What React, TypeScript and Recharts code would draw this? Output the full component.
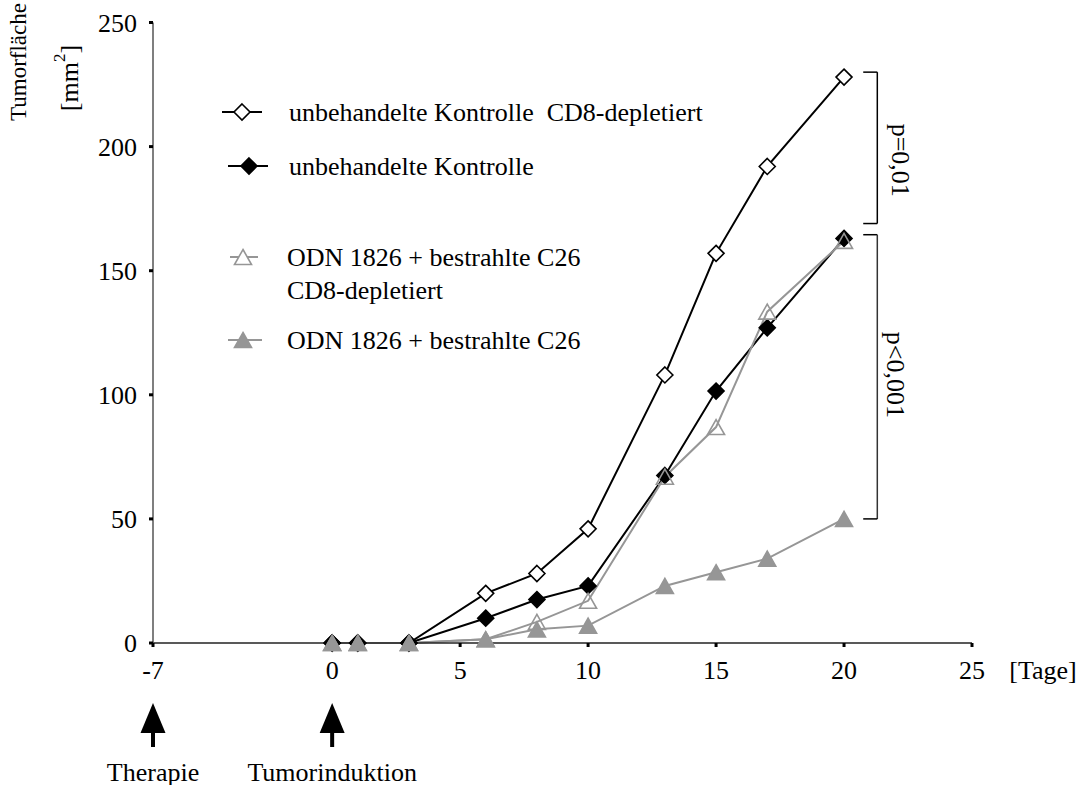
import React from 'react';
import { LineChart, Line, XAxis, YAxis, ReferenceLine, ReferenceDot } from 'recharts';

// ---- data ----
const days = [0, 1, 3, 6, 8, 10, 13, 15, 17, 20];
const kontrolleCD8 = [0, 0, 0, 20, 28, 46, 108, 157, 192, 228];
const kontrolle = [0, 0, 0, 10, 17.5, 23, 67.5, 101.5, 127, 163];
const odnCD8 = [0, 0, 0, 1.5, 8.5, 17, 67, 87, 133.5, 162];
const odn = [0, 0, 0, 1.5, 5.5, 7, 23, 28.5, 34, 50];

const seriesKeys = ['kontrolleCD8', 'kontrolle', 'odnCD8', 'odn'];
const seriesNames = [
  ['unbehandelte Kontrolle  CD8-depletiert'],
  ['unbehandelte Kontrolle'],
  ['ODN 1826 + bestrahlte C26', 'CD8-depletiert'],
  ['ODN 1826 + bestrahlte C26'],
];

const xTicks = [-7, 0, 5, 10, 15, 20, 25];
const yTicks = [0, 50, 100, 150, 200, 250];
const eventDays = [-7, 0];
const eventLabels = ['Therapie', 'Tumorinduktion'];
const xUnit = '[Tage]';
const yTitle = 'Tumorfläche';

const bracketTops = [230, 164.5];
const bracketBottoms = [169, 50];
const bracketLabels = ['p=0,01', 'p<0,001'];
const bracketLabelY = [194.5, 108];

const data = days.map((d, i) => ({
  day: d,
  kontrolleCD8: kontrolleCD8[i],
  kontrolle: kontrolle[i],
  odnCD8: odnCD8[i],
  odn: odn[i],
}));

// ---- styles ----
const FONT = '"Liberation Serif", "Times New Roman", serif';
const GRAY = '#969696';
const styles = [
  { stroke: '#000', marker: 'diamond', fill: '#fff', mstroke: '#000' },
  { stroke: '#000', marker: 'diamond', fill: '#000', mstroke: '#000' },
  { stroke: GRAY, marker: 'triangle', fill: 'none', mstroke: GRAY },
  { stroke: GRAY, marker: 'triangle', fill: GRAY, mstroke: GRAY },
];

const W = 1083;
const H = 785;

function markerPath(type: string, cx: number, cy: number) {
  if (type === 'diamond') {
    const r = 8;
    return `M${cx},${cy - r}L${cx + r},${cy}L${cx},${cy + r}L${cx - r},${cy}Z`;
  }
  const w = 17;
  const h = 15;
  return `M${cx},${cy - h / 2}L${cx + w / 2},${cy + h / 2}L${cx - w / 2},${cy + h / 2}Z`;
}

function Marker({ s, cx, cy }: any) {
  return (
    <path
      d={markerPath(s.marker, cx, cy)}
      fill={s.fill}
      stroke={s.mstroke}
      strokeWidth={1.6}
    />
  );
}

const renderXTick = (props: any) => {
  const { x, y, payload } = props;
  const v = payload.value;
  const mi = eventDays.indexOf(v);
  return (
    <g>
      <text x={x} y={y} textAnchor="middle" dominantBaseline="central" fontSize={26} fontFamily={FONT} fill="#000">
        {v}
      </text>
      {mi >= 0 && (
        <g>
          <path d={`M${x},${y + 33}L${x + 12.5},${y + 63}L${x - 12.5},${y + 63}Z`} fill="#000" />
          <rect x={x - 2} y={y + 62} width={4} height={15} fill="#000" />
          <text x={x} y={y + 102} textAnchor="middle" dominantBaseline="central" fontSize={26} fontFamily={FONT} fill="#000">
            {eventLabels[mi]}
          </text>
        </g>
      )}
    </g>
  );
};

const renderXUnit = (props: any) => {
  const vb = props.viewBox || {};
  const x = (vb.x ?? 153) + (vb.width ?? 819) + 71;
  const y = (vb.y ?? 643) + 27;
  return (
    <text x={x} y={y} textAnchor="middle" dominantBaseline="central" fontSize={26} fontFamily={FONT} fill="#000">
      {xUnit}
    </text>
  );
};

const renderYTitle = () => (
  <g>
    <text transform="rotate(-90 18 62)" x={18} y={62} textAnchor="middle" dominantBaseline="central" fontSize={23} fontFamily={FONT} fill="#000">
      {yTitle}
    </text>
    <text transform="rotate(-90 69 78)" x={69} y={78} textAnchor="middle" dominantBaseline="central" fontSize={26} fontFamily={FONT} fill="#000">
      [mm<tspan dy={-10} fontSize={17}>2</tspan><tspan dy={10}>]</tspan>
    </text>
  </g>
);

const pText = (label: string) => (p: any) => (
  <text
    transform={`rotate(90 ${p.cx} ${p.cy})`}
    x={p.cx}
    y={p.cy}
    textAnchor="middle"
    dominantBaseline="central"
    fontSize={26}
    fontFamily={FONT}
    fill="#000"
  >
    {label}
  </text>
);

// legend layout (overlay)
const legendRowY = [112, 166, 257, 340];
const legendLineX = [[222, 262], [228, 268], [230, 258], [228, 262]];
const legendMarkX = [242, 249, 243, 243];
const legendTextX = [289, 289, 287, 287];
const legendLineGap = 33;

export default function App() {
  const bx = 21.3;
  const bxEnd = 20.75;
  return (
    <div style={{ position: 'absolute', left: 0, top: 0, width: W, height: H, background: '#fff' }}>
      <LineChart
        width={W}
        height={H}
        data={data}
        margin={{ top: 22.5, right: 111, bottom: 112, left: 93 }}
        style={{ fontFamily: FONT }}
      >
        <XAxis
          type="number"
          dataKey="day"
          domain={[-7, 25]}
          ticks={xTicks}
          interval={0}
          allowDataOverflow
          height={30}
          tickSize={4}
          tickMargin={23}
          tick={renderXTick}
          tickLine={{ stroke: '#000', strokeWidth: 3 }}
          axisLine={{ stroke: '#222', strokeWidth: 1.5 }}
          label={{ content: renderXUnit }}
        />
        <YAxis
          type="number"
          domain={[0, 250]}
          ticks={yTicks}
          interval={0}
          width={60}
          tickSize={4}
          tickMargin={12}
          tick={{ fontSize: 26, fill: '#000', fontFamily: FONT }}
          tickLine={{ stroke: '#000', strokeWidth: 3 }}
          axisLine={{ stroke: '#555', strokeWidth: 1.5 }}
          label={{ content: renderYTitle }}
        />
        {bracketTops.map((t, i) => (
          <ReferenceLine
            key={`bt${i}`}
            segment={[{ x: bxEnd, y: t }, { x: bx, y: t }]}
            stroke="#000"
            strokeWidth={1.5}
            ifOverflow="visible"
          />
        ))}
        {bracketTops.map((t, i) => (
          <ReferenceLine
            key={`bv${i}`}
            segment={[{ x: bx, y: t }, { x: bx, y: bracketBottoms[i] }]}
            stroke={i === 0 ? '#000' : '#333'}
            strokeWidth={1.5}
            ifOverflow="visible"
          />
        ))}
        {bracketBottoms.map((b, i) => (
          <ReferenceLine
            key={`bb${i}`}
            segment={[{ x: bxEnd, y: b }, { x: bx, y: b }]}
            stroke="#000"
            strokeWidth={1.5}
            ifOverflow="visible"
          />
        ))}
        {bracketLabels.map((l, i) => (
          <ReferenceDot
            key={`bl${i}`}
            x={i === 0 ? 22.2 : 22.0}
            y={bracketLabelY[i]}
            r={0}
            ifOverflow="visible"
            shape={pText(l)}
          />
        ))}
        {seriesKeys.map((k, si) => (
          <Line
            key={k}
            type="linear"
            dataKey={k}
            name={seriesNames[si].join(' ')}
            stroke={styles[si].stroke}
            strokeWidth={2}
            isAnimationActive={false}
            activeDot={false}
            dot={(p: any) => <Marker key={`${k}-${p.index}`} s={styles[si]} cx={p.cx} cy={p.cy} />}
          />
        ))}
      </LineChart>
      <svg
        width={W}
        height={H}
        style={{ position: 'absolute', left: 0, top: 0, pointerEvents: 'none' }}
      >
        {seriesNames.map((lines, i) => (
          <g key={`lg${i}`}>
            <line
              x1={legendLineX[i][0]}
              x2={legendLineX[i][1]}
              y1={legendRowY[i]}
              y2={legendRowY[i]}
              stroke={styles[i].stroke}
              strokeWidth={2}
            />
            <Marker s={{ ...styles[i], fill: styles[i].fill === 'none' ? '#fff' : styles[i].fill }} cx={legendMarkX[i]} cy={legendRowY[i]} />
            {lines.map((t, j) => (
              <text
                key={j}
                x={legendTextX[i]}
                y={legendRowY[i] + j * legendLineGap}
                dominantBaseline="central"
                fontSize={26}
                fontFamily={FONT}
                fill="#000"
                style={{ whiteSpace: 'pre' }}
                xmlSpace="preserve"
              >
                {t}
              </text>
            ))}
          </g>
        ))}
      </svg>
    </div>
  );
}
